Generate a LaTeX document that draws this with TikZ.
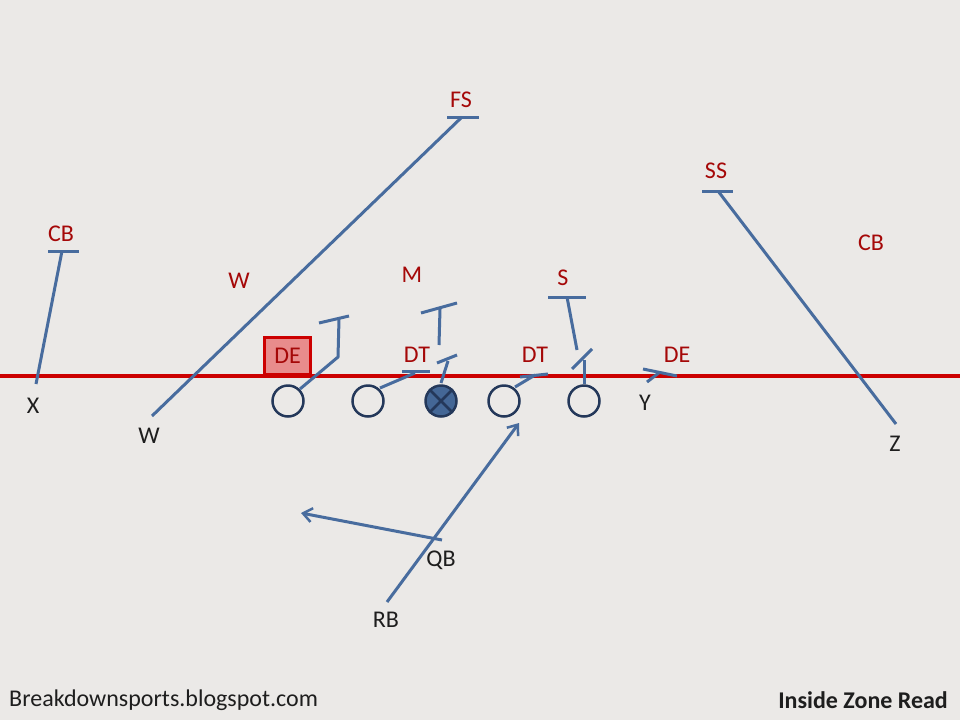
\documentclass[tikz,border=0pt]{standalone}
\usepackage{fontspec}
\setmainfont{Carlito}
\usetikzlibrary{arrows.meta}
\definecolor{bg}{RGB}{235,233,231}
\definecolor{los}{RGB}{204,0,0}
\definecolor{route}{RGB}{72,108,158}
\definecolor{navy}{RGB}{36,56,90}
\definecolor{dred}{RGB}{165,8,8}
\definecolor{txt}{RGB}{30,30,30}
\definecolor{boxfill}{RGB}{232,140,140}
\begin{document}
\begin{tikzpicture}[x=1pt,y=-1pt,
  rt/.style={draw=route,line width=3pt},
  arr/.style={rt,-{Straight Barb[length=9pt,width=14pt,line width=2.5pt]}},
  ol/.style={circle,draw=navy,line width=2.5pt,minimum size=31pt,inner sep=0pt},
  dlab/.style={text=dred,font=\fontsize{24}{26}\selectfont,inner sep=0pt},
  olab/.style={text=txt,font=\fontsize{24}{26}\selectfont,inner sep=0pt}]
\fill[bg] (0,0) rectangle (960,720);
\useasboundingbox (0,0) rectangle (960,720);
% line of scrimmage
\coordinate (losL) at (0,376);
\coordinate (losR) at (960,376);
\draw[los,line width=4pt] (losL) -- (losR);
% DE box
\node[draw=los,fill=boxfill,line width=2.5pt,minimum width=46pt,minimum height=37pt,inner sep=0pt] (debox) at (287.5,356) {};
\node[dlab] (deL) at (287.5,356) {DE};
% linemen
\node[ol] (lt) at (288,401) {};
\node[ol] (lg) at (368,401) {};
\node[ol,fill=route!95!black] (c) at (441,401) {};
\draw[navy,line width=2.5pt] (c.north east) -- (c.south west) (c.north west) -- (c.south east);
\node[ol] (rg) at (504,401) {};
\node[ol] (rt) at (584,401) {};
% X and CB
\coordinate (xs) at (36,384);
\coordinate (cbt) at (62,251);
\coordinate (cba) at (48,251);
\coordinate (cbb) at (79,251);
\draw[rt] (xs) -- (cbt);
\draw[rt] (cba) -- (cbb);
\node[dlab] (cbL) at (61,234) {CB};
\node[olab] (xL) at (33,406) {X};
% W to FS
\coordinate (ws) at (152,416);
\coordinate (fst) at (462,117);
\coordinate (fsa) at (447,117);
\coordinate (fsb) at (479,117);
\draw[rt] (ws) -- (fst);
\draw[rt] (fsa) -- (fsb);
\node[dlab] (fsL) at (461,100) {FS};
\node[olab] (wL) at (149,436) {W};
\node[dlab] (wdL) at (239,281) {W};
% LT block
\coordinate (lt1) at (300,389);
\coordinate (lt2) at (338,357);
\coordinate (lt3) at (339,319);
\coordinate (lta) at (319,323);
\coordinate (ltb) at (349,316);
\draw[rt] (lt1) -- (lt2) -- (lt3);
\draw[rt] (lta) -- (ltb);
% LG block
\coordinate (lg1) at (380,388);
\coordinate (lg2) at (415,373);
\coordinate (lga) at (402,371);
\coordinate (lgb) at (430,371);
\draw[rt] (lg1) -- (lg2);
\draw[rt] (lga) -- (lgb);
\node[dlab] (dt1L) at (417,355) {DT};
% C block
\coordinate (c1) at (441,383);
\coordinate (c2) at (448,361);
\coordinate (ca) at (437,363);
\coordinate (cb) at (457,355);
\draw[rt] (c1) -- (c2);
\draw[rt] (ca) -- (cb);
\coordinate (m1) at (439,345);
\coordinate (m2) at (440,309);
\coordinate (ma) at (421,313);
\coordinate (mb) at (457,303);
\draw[rt] (m1) -- (m2);
\draw[rt] (ma) -- (mb);
\node[dlab] (mL) at (412,275) {M};
% RG block
\coordinate (rg1) at (515,387);
\coordinate (rg2) at (535,375);
\coordinate (rga) at (520,377);
\coordinate (rgb) at (548,374);
\draw[rt] (rg1) -- (rg2);
\draw[rt] (rga) -- (rgb);
\node[dlab] (dt2L) at (535,355) {DT};
% RT block
\coordinate (rt1) at (584,384);
\coordinate (rt2) at (584,360);
\coordinate (rta) at (572,369);
\coordinate (rtb) at (592,349);
\draw[rt] (rt1) -- (rt2);
\draw[rt] (rta) -- (rtb);
\coordinate (s1) at (577,350);
\coordinate (s2) at (567,297);
\coordinate (sa) at (548,297);
\coordinate (sb) at (586,297);
\draw[rt] (s1) -- (s2);
\draw[rt] (sa) -- (sb);
\node[dlab] (sL) at (563,278) {S};
% Y block
\coordinate (y1) at (647,382);
\coordinate (y2) at (660,372);
\coordinate (ya) at (643,369);
\coordinate (yb) at (677,376);
\draw[rt] (y1) -- (y2);
\draw[rt] (ya) -- (yb);
\node[olab] (yL) at (645,403) {Y};
\node[dlab] (de2L) at (677,355) {DE};
% Z and SS
\coordinate (zs) at (896,424);
\coordinate (sst) at (718,191);
\coordinate (ssa) at (702,191);
\coordinate (ssb) at (733,191);
\draw[rt] (zs) -- (sst);
\draw[rt] (ssa) -- (ssb);
\node[dlab] (ssL) at (716,171) {SS};
\node[olab] (zL) at (895,444) {Z};
\node[dlab] (cb2L) at (871,243) {CB};
% backfield
\coordinate (rb) at (387,602);
\coordinate (rbe) at (519,423);
\draw[arr] (rb) -- (rbe);
\coordinate (qb) at (442,540);
\coordinate (qbe) at (301,513);
\draw[arr] (qb) -- (qbe);
\node[olab] (qbL) at (441,560) {QB};
\node[olab] (rbL) at (386,620) {RB};
% footer
\node[olab,anchor=west] (site) at (9,700) {Breakdownsports.blogspot.com};
\node[olab,anchor=east,font=\fontsize{24}{26}\selectfont\bfseries] (title) at (948,700) {Inside Zone Read};
\end{tikzpicture}
\end{document}
